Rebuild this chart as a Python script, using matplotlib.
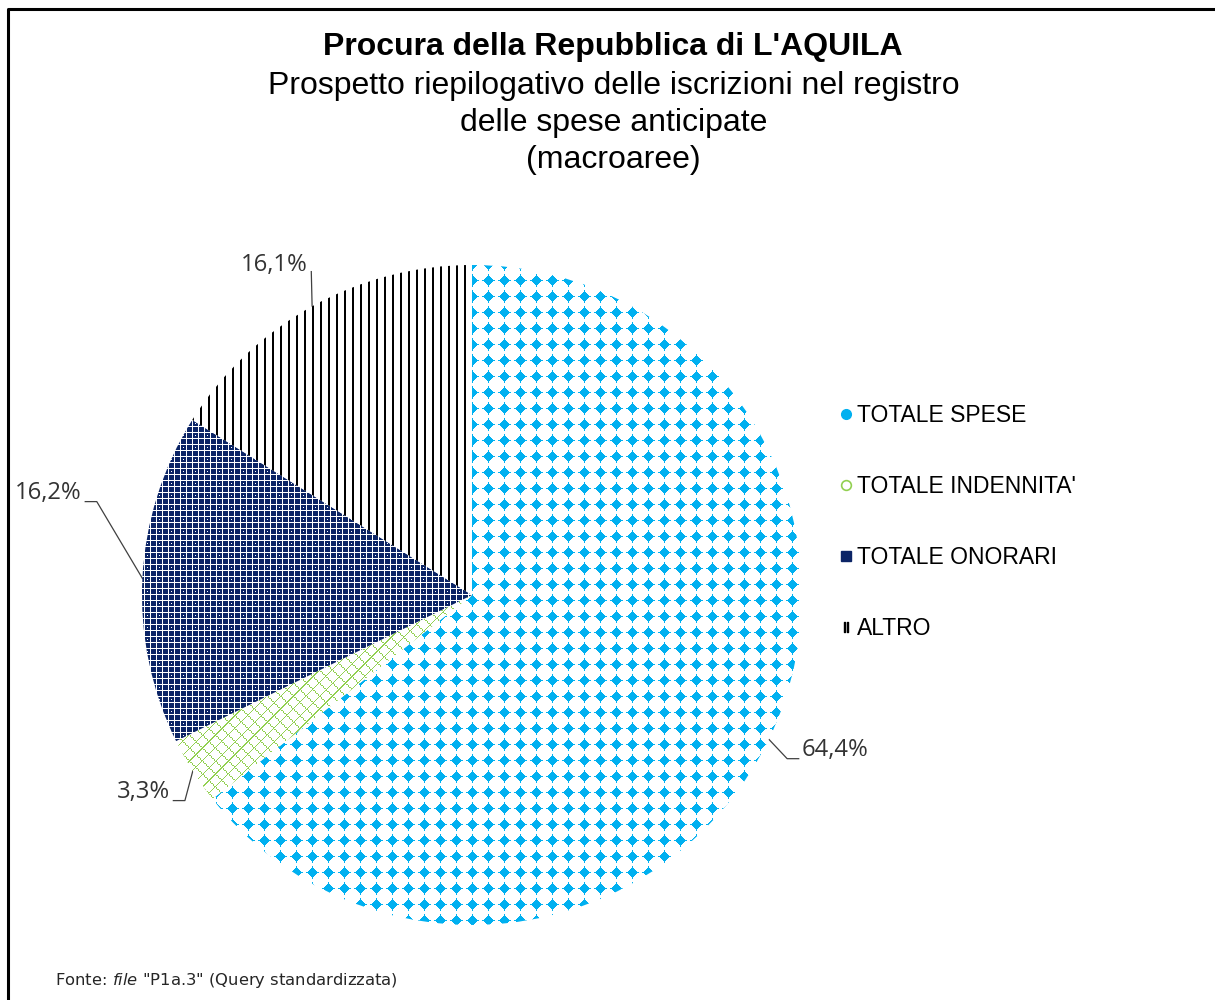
import numpy as np
import matplotlib.pyplot as plt
from matplotlib.colors import to_rgba
from matplotlib.lines import Line2D

# dati (macroaree)
categorie = ["TOTALE SPESE", "TOTALE INDENNITA'", "TOTALE ONORARI", "ALTRO"]
percentuali = [64.4, 3.3, 16.2, 16.1]
etichette = ["64,4%", "3,3%", "16,2%", "16,1%"]

titolo = "Procura della Repubblica di L'AQUILA"
sottotitolo = ["Prospetto riepilogativo delle iscrizioni nel registro",
               "delle spese anticipate", "(macroaree)"]

BLU = "#00B0F0"
VERDE = "#92D050"
NAVY = "#0B2466"

W, H, DPI = 1215, 1000, 100
fig = plt.figure(figsize=(W / DPI, H / DPI), dpi=DPI)

# pie: centre ~ (472, 595) px, radius ~330 px
ax = fig.add_axes([142 / W, (H - 595 - 330) / H, 660 / W, 660 / H])
wedges, _ = ax.pie(percentuali, startangle=90, counterclock=False, radius=1,
                   wedgeprops=dict(linewidth=0, facecolor="none"))
ax.set_xlim(-1, 1)
ax.set_ylim(-1, 1)
ax.axis("off")

# pixel fill patterns (Excel-like)
yy, xx = np.mgrid[0:H, 0:W]


def pattern(mask, fg, bg="white"):
    img = np.empty((H, W, 4))
    img[:] = to_rgba(bg)
    img[mask] = to_rgba(fg)
    return img


dx = (xx % 16) - 8
dy = (yy % 16) - 8
spese = ((dx ** 2 + dy ** 2 <= 15) | (np.abs(dx) + np.abs(dy) <= 5)
         | ((dx == 0) & (np.abs(dy) <= 6)) | ((dy == 0) & (np.abs(dx) <= 6)))
u = (xx + yy) % 13
v = (xx - yy) % 13
indenn = ((u <= 1) | (v <= 1)) & ((xx + yy) % 3 != 0)
onor = ((xx % 6 == 0) | (yy % 6 == 0)) | ((xx % 12 == 3) & (yy % 12 == 3))
altro = (xx % 8) < 2

imgs = [pattern(spese, BLU), pattern(indenn, VERDE),
        pattern(onor, "white", NAVY), pattern(altro, "black")]
for w, img in zip(wedges, imgs):
    im = fig.figimage(img, origin="upper", zorder=2)
    im.set_clip_path(w)

# data labels with leader lines
pos_testo = [(1.0, -0.47, "left"), (-0.915, -0.597, "right"),
             (-1.182, 0.309, "right"), (-0.497, 1.0, "right")]
gomito = [0.035, 0.035, 0.035, 0.0]
for w, lab, (tx, ty, ha), g in zip(wedges, etichette, pos_testo, gomito):
    ang = np.deg2rad((w.theta1 + w.theta2) / 2)
    x0, y0 = np.cos(ang), np.sin(ang)
    s = 1 if ha == "left" else -1
    ex = tx - s * 0.01
    ey = ty - 0.026 if g > 0 else ty - 0.02
    ax.plot([x0, ex - s * g, ex], [y0, ey, ey], color="#404040", lw=0.9,
            clip_on=False, zorder=1)
    ax.text(tx, ty, lab, ha=ha, va="center", fontsize=17.2, color="#333333",
            family="Open Sans", clip_on=False)

# titles
fig.text(0.504, 1 - 47 / H, titolo, ha="center", va="center", fontsize=23,
         fontweight="bold", family="Liberation Sans")
for i, riga in enumerate(sottotitolo):
    fig.text(0.505, 1 - (86 + 37 * i) / H, riga, ha="center", va="center",
             fontsize=23, family="Liberation Sans")

# legend
handles = [
    Line2D([], [], ls="none", marker="o", ms=7, mfc=BLU, mec=BLU),
    Line2D([], [], ls="none", marker="o", ms=7, mfc="white", mec=VERDE, mew=1.2),
    Line2D([], [], ls="none", marker="s", ms=6.5, mfc=NAVY, mec=NAVY),
    Line2D([], [], ls="none", marker="$||$", ms=7, mfc="black", mec="black"),
]
fig.legend(handles, categorie, loc="upper left", bbox_to_anchor=(820 / W, 1 - 383 / H),
           frameon=False, handlelength=0.5, handletextpad=0.2, labelspacing=2.1,
           prop=dict(family="Liberation Sans", size=16.5))

# footer
fig.text(55 / W, 1 - 981 / H, r'Fonte: $\mathit{file}$ "P1a.3" (Query standardizzata)',
         ha="left", va="center", fontsize=11.8, color="#262626")

# frame (only left and top edges visible in the crop)
fig.add_artist(Line2D([8 / W, 8 / W, 1], [0, 1 - 9 / H, 1 - 9 / H], color="black",
                      lw=2.2, transform=fig.transFigure))

fig.savefig("out.png", dpi=DPI)
